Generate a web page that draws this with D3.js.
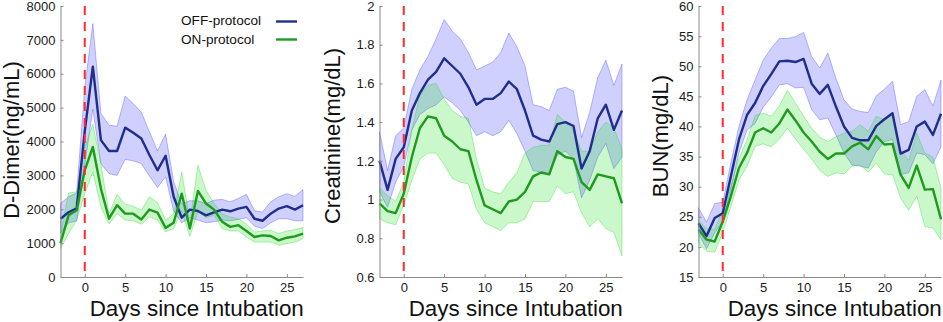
<!DOCTYPE html>
<html lang="en">
<head>
    <meta charset="UTF-8">
    <title>OFF vs ON protocol</title>
    <script src="https://d3js.org/d3.v7.min.js"></script>
    <style>
        body { margin: 0; background: white; font-family: "Liberation Sans", Arial, sans-serif; }
        svg { display: block; }
        .tick text { font-family: "Liberation Sans", Arial, sans-serif; font-size: 13px; fill: #1a1a1a; }
        .axis path, .axis line { stroke: #8a8a8a; }
    </style>
</head>
<body>
<svg width="943" height="322"></svg>
<script>
    const days = [-3,-2,-1,0,1,2,3,4,5,6,7,8,9,10,11,12,13,14,15,16,17,18,19,20,21,22,23,24,25,26,27];
    const xTicks = [0, 5, 10, 15, 20, 25];

    // D-Dimer (ng/mL)
    const ddOffMean = [1720,1910,2030,4300,6210,4040,3720,3720,4410,4260,4090,3600,3150,3580,2370,1750,1990,1950,1820,1910,1990,1940,2020,2070,1720,1660,1870,2020,2090,1990,2120];
    const ddOffHigh = [2170,2370,2480,5600,7480,4830,4480,4450,5340,5120,4860,4290,3720,4220,2810,2150,2250,2250,2170,2270,2290,2220,2320,2440,1950,1920,2220,2370,2460,2380,2580];
    const ddOffLow  = [1300,1600,1650,3300,4950,3350,3050,3000,3470,3430,3350,2980,2640,2960,1950,1600,1750,1680,1600,1630,1680,1660,1700,1750,1500,1430,1600,1720,1720,1660,1660];
    const ddOnMean  = [1000,1820,1970,3150,3840,2610,1720,2120,1870,1870,1700,1990,1900,1450,1600,2460,1430,2540,2170,1990,1630,1480,1530,1360,1180,1230,1210,1080,1160,1200,1280];
    const ddOnHigh  = [1280,2480,2510,3840,4510,3350,1870,2440,2150,2090,1970,2370,2190,1680,1870,3100,1630,3300,2560,2170,1870,1770,1720,1560,1330,1360,1380,1280,1360,1400,1460];
    const ddOnLow   = [840,1280,1680,2460,3100,2070,1560,1870,1680,1660,1560,1770,1680,1330,1430,1950,1200,1920,1750,1820,1430,1360,1360,1180,1030,1030,1030,940,990,1030,1130];
    const ddTicks = [0,1000,2000,3000,4000,5000,6000,7000,8000];

    // Creatinine (mg/dL)
    const crOffMean = [1.20,1.05,1.21,1.27,1.46,1.55,1.62,1.66,1.73,1.69,1.65,1.58,1.49,1.52,1.52,1.55,1.61,1.57,1.46,1.33,1.31,1.30,1.39,1.40,1.38,1.16,1.25,1.42,1.49,1.36,1.46];
    const crOffHigh = [1.35,1.15,1.33,1.37,1.57,1.67,1.74,1.83,1.93,1.87,1.83,1.76,1.67,1.69,1.71,1.76,1.86,1.79,1.69,1.49,1.48,1.46,1.57,1.58,1.56,1.32,1.45,1.63,1.72,1.59,1.70];
    const crOffLow  = [1.04,0.96,1.09,1.17,1.36,1.44,1.47,1.49,1.53,1.50,1.46,1.40,1.33,1.35,1.33,1.35,1.41,1.34,1.25,1.15,1.14,1.13,1.23,1.25,1.21,1.01,1.10,1.22,1.29,1.16,1.22];
    const crOnMean  = [0.98,0.94,0.93,1.03,1.22,1.37,1.43,1.42,1.33,1.30,1.26,1.25,1.10,0.97,0.95,0.93,0.99,1.00,1.04,1.12,1.14,1.13,1.25,1.22,1.21,1.09,1.05,1.13,1.12,1.11,0.98];
    const crOnHigh  = [1.06,1.02,0.99,1.09,1.36,1.54,1.59,1.60,1.52,1.46,1.43,1.42,1.21,1.06,1.04,1.03,1.09,1.14,1.24,1.27,1.28,1.28,1.44,1.40,1.36,1.25,1.25,1.35,1.40,1.37,1.26];
    const crOnLow   = [0.90,0.88,0.87,0.97,1.10,1.21,1.24,1.24,1.18,1.11,1.09,1.08,0.95,0.88,0.86,0.84,0.88,0.88,0.90,0.99,0.99,0.99,1.07,1.03,1.04,0.93,0.86,0.90,0.85,0.83,0.71];
    const crTicks = [0.6,0.8,1.0,1.2,1.4,1.6,1.8,2.0];

    // BUN (mg/dL)
    const bunOffMean = [23.9,21.8,24.8,25.6,31.7,37.8,41.9,43.9,46.7,48.7,50.8,50.9,50.7,51.2,47.1,45.4,46.9,43.3,40.0,38.1,37.7,37.7,40.1,41.2,42.2,35.5,36.1,40.0,40.8,38.6,42.1];
    const bunOffHigh = [26.5,24.1,27.2,27.4,33.9,40.0,44.4,47.7,51.0,53.0,54.6,54.6,54.9,55.6,51.6,49.7,52.2,48.0,44.4,42.9,42.5,42.3,45.1,46.2,47.5,40.3,40.8,45.0,46.1,43.4,47.7];
    const bunOffLow  = [22.2,19.7,22.3,24.2,29.5,35.6,39.4,40.5,43.2,44.9,46.9,47.1,46.4,46.5,42.8,41.1,41.4,38.6,35.6,33.6,33.4,33.1,35.8,37.5,37.8,32.0,32.3,35.6,35.3,33.8,36.6];
    const bunOnMean  = [22.9,21.2,20.9,24.2,28.4,33.1,35.6,39.0,39.7,39.0,40.5,42.8,41.0,39.0,37.5,35.8,34.6,35.5,35.5,36.7,37.3,36.2,38.4,37.0,37.1,32.0,29.8,33.5,29.5,29.6,24.6];
    const bunOnHigh  = [24.5,23.0,22.9,26.2,30.0,34.7,37.8,41.8,42.2,41.7,43.4,46.0,43.9,41.7,39.7,38.2,37.5,38.3,38.9,39.2,40.3,39.2,41.7,41.1,41.9,36.1,34.4,38.9,35.6,34.9,29.8];
    const bunOnLow   = [20.6,19.3,19.1,22.3,26.7,31.1,33.4,36.7,37.1,36.6,37.9,39.7,37.9,36.2,34.6,32.7,31.7,32.3,32.1,33.4,33.6,32.4,33.9,32.1,32.0,28.1,26.1,28.4,23.4,23.1,21.2];
    const bunTicks = [15,20,25,30,35,40,45,50,55,60];

    const seriesNames = ["OFF-protocol", "ON-protocol"];

    const panels = [
        { title: "D-Dimer(ng/mL)", ticks: ddTicks, off: [ddOffMean, ddOffLow, ddOffHigh], on: [ddOnMean, ddOnLow, ddOnHigh],
          x0: 60.5, x1: 303, titleX: 18.5, titleY: 140, legend: true },
        { title: "Creatinine(mg/dL)", ticks: crTicks, off: [crOffMean, crOffLow, crOffHigh], on: [crOnMean, crOnLow, crOnHigh],
          x0: 379.5, x1: 622, titleX: 340, titleY: 136 },
        { title: "BUN(mg/dL)", ticks: bunTicks, off: [bunOffMean, bunOffLow, bunOffHigh], on: [bunOnMean, bunOnLow, bunOnHigh],
          x0: 698.5, x1: 941, titleX: 668, titleY: 136 }
    ];

    const plotTop = 6, plotBottom = 277;
    const colors = {
        off: { line: "#1f2d8c", fill: "rgb(40,40,255)", edge: "rgb(60,60,255)" },
        on:  { line: "#1f9a1f", fill: "rgb(20,225,20)", edge: "rgb(40,215,40)" }
    };

    const svg = d3.select("svg");

    panels.forEach(p => {
        const x = d3.scaleLinear().domain([-3, 27]).range([p.x0, p.x1]);
        const y = d3.scaleLinear().domain([p.ticks[0], p.ticks[p.ticks.length - 1]]).range([plotBottom, plotTop]);
        const g = svg.append("g");

        const area = (low, high) => d3.area()
            .x((d, i) => x(days[i]))
            .y0((d, i) => y(low[i]))
            .y1((d, i) => y(high[i]))(days);
        const line = vals => d3.line()
            .x((d, i) => x(days[i]))
            .y((d, i) => y(vals[i]))(days);

        [["off", p.off], ["on", p.on]].forEach(([k, s]) => {
            g.append("path")
                .attr("d", area(s[1], s[2]))
                .attr("fill", colors[k].fill)
                .attr("fill-opacity", 0.22)
                .attr("stroke", colors[k].edge)
                .attr("stroke-opacity", 0.35)
                .attr("stroke-width", 1);
        });

        [["off", p.off], ["on", p.on]].forEach(([k, s]) => {
            g.append("path")
                .attr("d", line(s[0]))
                .attr("fill", "none")
                .attr("stroke", colors[k].line)
                .attr("stroke-width", 2.4)
                .attr("stroke-linejoin", "round");
        });

        // intubation marker
        g.append("line")
            .attr("x1", x(0)).attr("x2", x(0))
            .attr("y1", plotTop).attr("y2", plotBottom)
            .attr("stroke", "#ff2b2b")
            .attr("stroke-width", 2)
            .attr("stroke-dasharray", "9,7");

        const fmt = d => String(+d.toFixed(1));
        g.append("g")
            .attr("class", "axis")
            .attr("transform", `translate(${p.x0},0)`)
            .call(d3.axisLeft(y).tickValues(p.ticks).tickFormat(fmt).tickSizeInner(-3).tickSizeOuter(0).tickPadding(5));

        g.append("g")
            .attr("class", "axis")
            .attr("transform", `translate(0,${plotBottom})`)
            .call(d3.axisBottom(x).tickValues(xTicks).tickFormat(fmt).tickSizeInner(-3).tickSizeOuter(0).tickPadding(6));

        g.append("text")
            .attr("transform", `translate(${p.titleX},${p.titleY}) rotate(-90)`)
            .attr("text-anchor", "middle")
            .attr("font-size", 22)
            .attr("fill", "#111")
            .text(p.title);

        g.append("text")
            .attr("x", (p.x0 + p.x1) / 2 + 15)
            .attr("y", 316)
            .attr("text-anchor", "middle")
            .attr("font-size", 22.4)
            .attr("fill", "#111")
            .text("Days since Intubation");

        if (p.legend) {
            const lg = g.append("g");
            seriesNames.forEach((name, i) => {
                const k = i === 0 ? "off" : "on";
                lg.append("text")
                    .attr("x", 181)
                    .attr("y", 25 + i * 19)
                    .attr("font-size", 13.6)
                    .attr("fill", "#111")
                    .text(name);
                lg.append("line")
                    .attr("x1", 276).attr("x2", 297)
                    .attr("y1", 21.5 + i * 18).attr("y2", 21.5 + i * 18)
                    .attr("stroke", colors[k].line)
                    .attr("stroke-width", 2.4);
            });
        }
    });
</script>
</body>
</html>
